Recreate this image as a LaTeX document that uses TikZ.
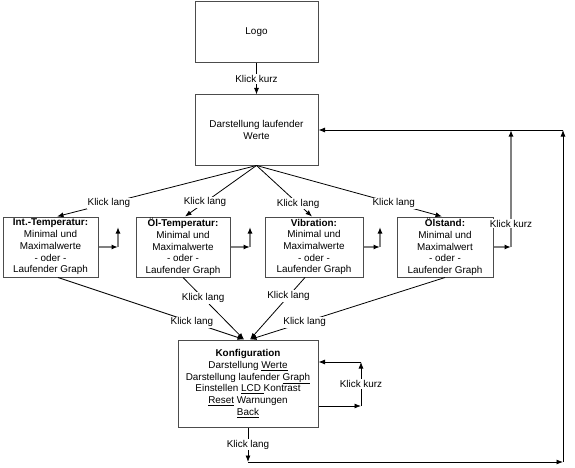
\documentclass[tikz,border=0pt]{standalone}
\usepackage{fontspec}
\setmainfont{Liberation Sans}
\usetikzlibrary{positioning,arrows.meta}
\tikzset{>={Latex[length=6.5pt,width=5pt]}}
\tikzset{
  box/.style={draw=black!70, line width=1pt, align=center, inner sep=1pt,
    font=\fontsize{9.9}{11.7}\selectfont},
  lbl/.style={fill=white, inner sep=1pt, font=\fontsize{9.9}{11.7}\selectfont},
  conn/.style={->, line width=0.8pt},
  gconn/.style={-{Latex[length=6.5pt,width=5pt,black]}, line width=1.3pt, draw=gray}
}

\begin{document}
\begin{tikzpicture}[x=1pt,y=-1pt]

  \useasboundingbox (0,0) rectangle (575,468);

  % Nodes
  \node[box, minimum width=123pt, minimum height=61pt] (logo) at (256.5,32.5) {Logo};
  \node[box, minimum width=123pt, minimum height=70pt, below=31pt of logo] (werte)
    {Darstellung laufender\\Werte};
  \node[box, minimum width=95pt, minimum height=60pt] (inttemp) at (50.5,247)
    {\textbf{Int.-Temperatur:}\\Minimal und\\Maximalwerte\\- oder -\\Laufender Graph};
  \node[box, minimum width=94pt, minimum height=60pt] (oeltemp) at (183,247)
    {\textbf{Öl-Temperatur:}\\Minimal und\\Maximalwerte\\- oder -\\Laufender Graph};
  \node[box, minimum width=98pt, minimum height=60pt] (vib) at (314,247)
    {\textbf{Vibration:}\\Minimal und\\Maximalwerte\\- oder -\\Laufender Graph};
  \node[box, minimum width=96pt, minimum height=60pt] (oelst) at (445,247)
    {\textbf{Ölstand:}\\Minimal und\\Maximalwert\\- oder -\\Laufender Graph};
  \node[box, minimum width=140pt, minimum height=87pt] (konf) at (248,383.5)
    {\textbf{Konfiguration}\\Darstellung \underline{Werte}\\Darstellung laufender \underline{Graph}\\
     Einstellen \underline{LCD\ }Kontrast\\\underline{Reset} Warnungen\\\underline{Back}};

  % Coordinates
  \coordinate (int-r) at (118,247);
  \coordinate (int-u) at (118,227);
  \coordinate (oel-r) at (250,247);
  \coordinate (oel-u) at (250,227);
  \coordinate (vib-r) at (380,247);
  \coordinate (vib-u) at (380,227);
  \coordinate (st-r) at (511,247);
  \coordinate (st-u) at (511,130);
  \coordinate (konf-d) at (248,462);
  \coordinate (back-r) at (563,462);
  \coordinate (back-u) at (563,130);
  \coordinate (loop-r) at (361,406);
  \coordinate (loop-u) at (361,362);

  % Edges
  \draw[conn] (logo) -- node[lbl] {Klick kurz} (werte);
  \draw[conn] (werte.south) -- node[lbl, pos=.74] {Klick lang} ([xshift=6.5pt]inttemp.north);
  \draw[conn] (werte.south) -- node[lbl, pos=.72] {Klick lang} ([xshift=2pt]oeltemp.north);
  \draw[conn] (werte.south) -- node[lbl, pos=.75] {Klick lang} ([xshift=-2pt]vib.north);
  \draw[conn] (werte.south) -- node[lbl, pos=.74] {Klick lang} ([xshift=-3pt]oelst.north);

  \draw[conn] ([xshift=7.5pt]inttemp.south) -- node[lbl, pos=.72] {Klick lang} ([xshift=-4pt]konf.north);
  \draw[conn] (oeltemp.south) -- node[lbl, pos=.33] {Klick lang} ([xshift=-4pt]konf.north);
  \draw[conn] ([xshift=-9pt]vib.south) -- node[lbl, pos=.3] {Klick lang} ([xshift=2pt]konf.north);
  \draw[conn] (oelst.south) -- node[lbl, pos=.72] {Klick lang} ([xshift=2pt]konf.north);

  % side arrows
  \draw[gconn] (inttemp.east) -- (int-r);
  \draw[gconn] (int-r) -- (int-u);
  \draw[gconn] (oeltemp.east) -- (oel-r);
  \draw[gconn] (oel-r) -- (oel-u);
  \draw[gconn] (vib.east) -- (vib-r);
  \draw[gconn] (vib-r) -- (vib-u);
  \draw[gconn] (oelst.east) -- (st-r);
  \draw[gconn] (st-r) -- node[lbl, pos=.2] {Klick kurz} (st-u);

  % back to Werte
  \draw[conn] (konf.south) -- node[lbl] {Klick lang} (konf-d);
  \draw[conn] (konf-d) -- (back-r);
  \draw[conn] (back-r) -- (back-u);
  \draw[conn] (back-u) -- (werte.east |- back-u);

  % Konfiguration loop
  \draw[conn] (konf.east |- loop-r) -- (loop-r);
  \draw[conn] (loop-r) -- node[lbl] {Klick kurz} (loop-u);
  \draw[conn] (loop-u) -- (konf.east |- loop-u);

\end{tikzpicture}
\end{document}
